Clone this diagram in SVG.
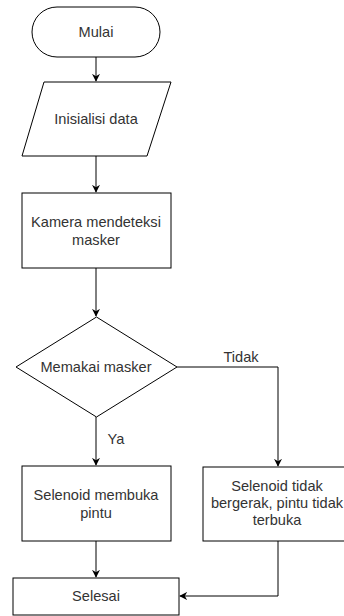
<svg xmlns="http://www.w3.org/2000/svg" width="344" height="616" viewBox="0 0 344 616">
<style>
.s{fill:#fff;stroke:#000;stroke-width:1}
.t{font-family:"Liberation Sans",Arial,sans-serif;font-size:14.6px;fill:#333;text-anchor:middle}
.c{fill:none;stroke:#000;stroke-width:1}
</style>
<defs>
<marker id="a" viewBox="0 0 10 10" refX="9" refY="5" markerWidth="8" markerHeight="8" markerUnits="userSpaceOnUse" orient="auto">
<path d="M0,0 L10,5 L0,10 L3,5 Z" fill="#000"/>
</marker>
</defs>
<rect width="344" height="616" fill="#fff"/>
<g id="connectors">
<path class="c" d="M96,57 V81" marker-end="url(#a)"/>
<path class="c" d="M96,156 V192" marker-end="url(#a)"/>
<path class="c" d="M96,268 V316" marker-end="url(#a)"/>
<path class="c" d="M96,417 V465" marker-end="url(#a)"/>
<path class="c" d="M177,367 H278 V466" marker-end="url(#a)"/>
<path class="c" d="M96,541 V577" marker-end="url(#a)"/>
<path class="c" d="M278,541 V596 H180" marker-end="url(#a)"/>
<text class="t" x="241" y="362">Tidak</text>
<text class="t" x="116" y="444">Ya</text>
</g>
<g id="mulai">
<rect class="s" x="32" y="7" width="128" height="50" rx="25" ry="25"/>
<text class="t" x="96" y="37">Mulai</text>
</g>
<g id="inisialisi">
<polygon class="s" points="44,82 171,82 147,156 22,156"/>
<text class="t" x="96" y="124">Inisialisi data</text>
</g>
<g id="kamera">
<rect class="s" x="22" y="193" width="149" height="75"/>
<text class="t" x="96" y="227">Kamera mendeteksi</text>
<text class="t" x="96" y="245">masker</text>
</g>
<g id="memakai">
<polygon class="s" points="96.5,317 177,367 96.5,417 16,367"/>
<text class="t" x="96" y="372">Memakai masker</text>
</g>
<g id="membuka">
<rect class="s" x="22" y="466" width="149" height="75"/>
<text class="t" x="96" y="500">Selenoid membuka</text>
<text class="t" x="96" y="518">pintu</text>
</g>
<g id="tidakbuka">
<rect class="s" x="203" y="467" width="150" height="74"/>
<text class="t" x="277" y="491">Selenoid tidak</text>
<text class="t" x="277" y="508">bergerak, pintu tidak</text>
<text class="t" x="277" y="525">terbuka</text>
</g>
<g id="selesai">
<rect class="s" x="13" y="578" width="166" height="37"/>
<text class="t" x="96" y="601">Selesai</text>
</g>
</svg>
